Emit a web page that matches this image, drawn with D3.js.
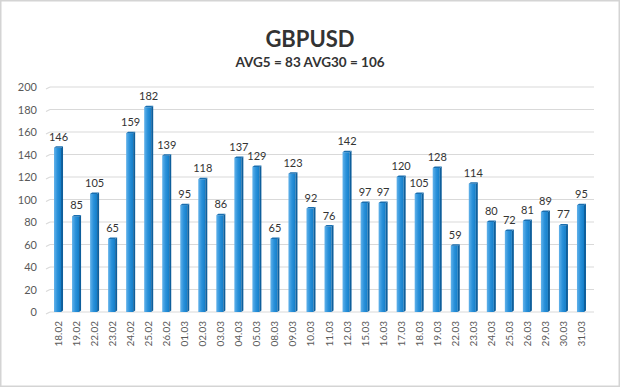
<!DOCTYPE html>
<html><head><meta charset="utf-8">
<script src="https://cdn.jsdelivr.net/npm/d3@7"></script>
<style>body{margin:0;background:#fff}svg{display:block}</style>
</head><body>
<script>
const categories = ["18.02","19.02","22.02","23.02","24.02","25.02","26.02","01.03","02.03","03.03","04.03","05.03","08.03","09.03","10.03","11.03","12.03","15.03","16.03","17.03","18.03","19.03","22.03","23.03","24.03","25.03","26.03","29.03","30.03","31.03"];
const values = [146,85,105,65,159,182,139,95,118,86,137,129,65,123,92,76,142,97,97,120,105,128,59,114,80,72,81,89,77,95];
const yTicks = [0,20,40,60,80,100,120,140,160,180,200];
const title = "GBPUSD";
const subtitle = "AVG5 = 83 AVG30 = 106";

const W = 620, H = 387;
const svg = d3.select("body").append("svg").attr("width", W).attr("height", H);
const defs = svg.append("defs");
const g1 = defs.append("linearGradient").attr("id","barg").attr("x1","0").attr("x2","1").attr("y1","0").attr("y2","0");
g1.append("stop").attr("offset","0").attr("stop-color","#62b2ea");
g1.append("stop").attr("offset","0.5").attr("stop-color","#2a91da");
g1.append("stop").attr("offset","1").attr("stop-color","#137ec9");

svg.append("rect").attr("x",0.5).attr("y",0.5).attr("width",W-1).attr("height",H-1)
  .attr("fill","#fff").attr("stroke","#d4d4d4").attr("stroke-width",2);

const font = "Lato, 'Open Sans', sans-serif";
svg.append("text").attr("x",310).attr("y",47).attr("text-anchor","middle")
  .attr("font-family",font).attr("font-weight","bold").attr("font-size",22).attr("fill","#333")
  .text(title);
svg.append("text").attr("x",310).attr("y",67).attr("text-anchor","middle")
  .attr("font-family",font).attr("font-weight","bold").attr("font-size",13.5).attr("fill","#333")
  .text(subtitle);

const x = d3.scaleBand().domain(categories).range([49.5,590.5]).paddingInner(0.5).paddingOuter(0.25);
const y = d3.scaleLinear().domain([0,200]).range([312,87]);

// gridlines
const grid = svg.append("g");
yTicks.forEach(t => {
  grid.append("line").attr("x1",50).attr("x2",594).attr("y1",y(t)).attr("y2",y(t))
    .attr("stroke","#d9d9d9").attr("stroke-width",1.2);
  grid.append("line").attr("x1",46).attr("x2",50).attr("y1",y(t)+2).attr("y2",y(t))
    .attr("stroke","#d9d9d9").attr("stroke-width",1.2);
});

const yAxis = d3.axisLeft(y).tickValues(yTicks).tickSize(0).tickPadding(0);
const ya = svg.append("g").attr("transform","translate(37,0)").call(yAxis);
ya.select(".domain").remove();
ya.selectAll("text").attr("font-family",font).attr("font-size",11).attr("fill","#595959");

const bw = x.bandwidth();
const bars = svg.append("g").selectAll("g").data(values).join("g");
bars.append("rect")
  .attr("x",(d,i)=>x(categories[i])).attr("y",d=>y(d)).attr("width",bw-2).attr("height",d=>y(0)-y(d))
  .attr("fill","url(#barg)");
bars.append("path")
  .attr("d",(d,i)=>{const x0=x(categories[i])+bw-2; return `M${x0},${y(d)} L${x0+2},${y(d)-1.5} L${x0+2},${y(0)-1.5} L${x0},${y(0)} Z`;})
  .attr("fill","#0e5f9c");
bars.append("path")
  .attr("d",(d,i)=>{const x0=x(categories[i]); return `M${x0},${y(d)} L${x0+2},${y(d)-1.5} L${x0+bw},${y(d)-1.5} L${x0+bw-2},${y(d)} Z`;})
  .attr("fill","#1a6fb0");

bars.append("text")
  .attr("x",(d,i)=>x(categories[i])+bw/2).attr("y",d=>y(d)-7)
  .attr("text-anchor","middle").attr("font-family",font).attr("font-size",11).attr("fill","#333")
  .text(d=>d);

const xAxis = d3.axisBottom(x).tickSize(0).tickPadding(0);
const xa = svg.append("g").attr("transform","translate(0,321)").call(xAxis);
xa.select(".domain").remove();
xa.selectAll("text").attr("font-family",font).attr("font-size",10).attr("fill","#595959")
  .attr("text-anchor","end").attr("transform","rotate(-90)").attr("dy","0.35em").attr("dx","0").attr("y",0).attr("x",0);
</script>
</body></html>
